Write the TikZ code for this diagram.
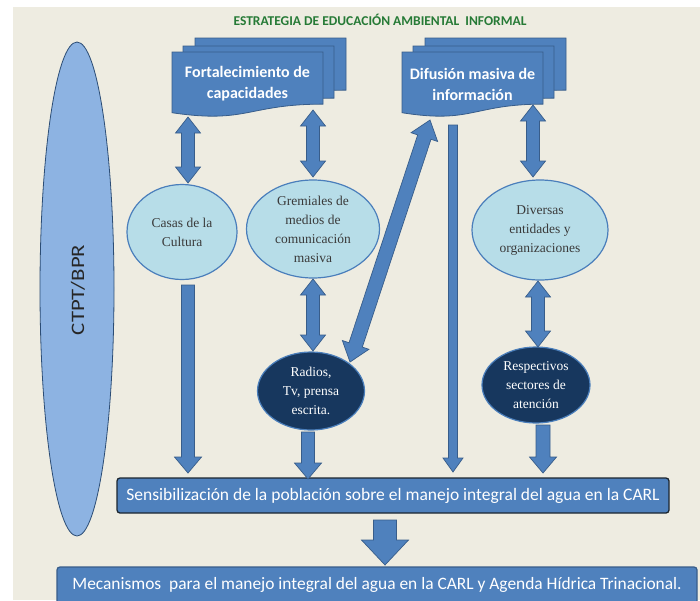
\documentclass[tikz,border=0pt]{standalone}
\usepackage{fontspec}
\setmainfont{Liberation Serif}
\setsansfont{Carlito}
\usetikzlibrary{calc,shapes.geometric}

\definecolor{bgtan}{HTML}{EEECE1}
\definecolor{docfill}{HTML}{4F81BD}
\definecolor{docdraw}{HTML}{385D8A}
\definecolor{lightell}{HTML}{B7DDE8}
\definecolor{ellborder}{HTML}{4A7EBB}
\definecolor{darkell}{HTML}{17375E}
\definecolor{leftell}{HTML}{8DB3E2}
\definecolor{leftborder}{HTML}{2C4D75}
\definecolor{titlegreen}{HTML}{267A36}
\definecolor{elltext}{HTML}{3A3A3A}
\definecolor{boxborder}{HTML}{1C2630}

\newcommand{\docshape}[4]{%
  \filldraw[docstyle] (#1,#2) -- ++(#3,0) -- ++(0,{0.802*#4})
    .. controls ({#1+0.5*#3},{#2+0.802*#4}) and ({#1+0.5*#3},{#2+1.107*#4}) ..
    (#1,{#2+0.934*#4}) -- cycle;}
\newcommand{\multidoc}[4]{%
  \docshape{#1+23}{#2-14}{#3}{#4}%
  \docshape{#1+11}{#2-6}{#3}{#4}%
  \docshape{#1}{#2}{#3}{#4}}

% single block arrow: #1 start, #2 tip, #3 half shaft, #4 half head, #5 head length (pt numbers)
\newcommand{\singlearrow}[5]{%
  \coordinate (sah) at ($(#2)!#5pt!(#1)$);
  \filldraw[arrowstyle] ($(#1)!#3pt!90:(#2)$) -- ($(sah)!#3pt!-90:(#1)$) -- ($(sah)!#4pt!-90:(#1)$)
    -- (#2) -- ($(sah)!#4pt!90:(#1)$) -- ($(sah)!#3pt!90:(#1)$) -- ($(#1)!#3pt!-90:(#2)$) -- cycle;}
% double block arrow between tips #1 and #2
\newcommand{\doublearrow}[5]{%
  \coordinate (dah1) at ($(#1)!#5pt!(#2)$);
  \coordinate (dah2) at ($(#2)!#5pt!(#1)$);
  \filldraw[arrowstyle] (#1) -- ($(dah1)!#4pt!90:(#2)$) -- ($(dah1)!#3pt!90:(#2)$)
    -- ($(dah2)!#3pt!-90:(#1)$) -- ($(dah2)!#4pt!-90:(#1)$) -- (#2)
    -- ($(dah2)!#4pt!90:(#1)$) -- ($(dah2)!#3pt!90:(#1)$)
    -- ($(dah1)!#3pt!-90:(#2)$) -- ($(dah1)!#4pt!-90:(#2)$) -- cycle;}

\tikzset{
  docstyle/.style={fill=docfill, draw=docdraw, line width=0.8pt},
  arrowstyle/.style={fill=docfill, draw=docdraw, line width=0.7pt, line join=miter},
  doctext/.style={font=\sffamily\bfseries\fontsize{16}{21}\selectfont, text=white, align=center},
  lightnode/.style={ellipse, fill=lightell, draw=ellborder, line width=1.2pt, inner sep=0pt,
    align=center, text=elltext, font=\fontsize{13.5}{19}\selectfont},
  darknode/.style={ellipse, fill=darkell, draw=ellborder, line width=1.2pt, inner sep=0pt,
    align=center, text=white, font=\fontsize{13.5}{19}\selectfont},
  barbox/.style={rectangle, rounded corners=3pt, fill=docfill, line width=1.3pt,
    text=white, font=\sffamily\fontsize{17.5}{20}\selectfont, inner sep=0pt}
}

\begin{document}
\begin{tikzpicture}[x=1pt,y=-1pt]
\useasboundingbox (0,0) rectangle (700,600);
\clip (0,0) rectangle (700,600);
\fill[white] (0,0) rectangle (700,600);
\fill[bgtan] (13,7) rectangle (700,600);

% title
\node[font=\sffamily\bfseries\fontsize{13.5}{15}\selectfont, text=titlegreen] (title) at (380,20)
  {ESTRATEGIA DE EDUCACIÓN AMBIENTAL\ \ INFORMAL};

% left ellipse
\node[ellipse, fill=leftell, draw=leftborder, line width=0.8pt, minimum width=74pt,
  minimum height=494pt, inner sep=0pt] (ctpt) at (77,289) {};
\node[rotate=90, xscale=1.2, font=\sffamily\fontsize{19}{20}\selectfont, text=black!85] (ctpttext) at (78,290) {CTPT/BPR};

% multi documents
\multidoc{172}{52}{151}{65}
\node[doctext] (fort) at (247.5,84) {Fortalecimiento de\\capacidades};
\multidoc{402}{52}{141}{65}
\node[doctext] (difu) at (472.5,84) {Difusión masiva de\\información};

% ellipses
\node[lightnode, minimum width=110pt, minimum height=95pt] (casas) at (182,232) {Casas de la\\Cultura};
\node[lightnode, minimum width=133pt, minimum height=98pt] (grem) at (313,229) {Gremiales de\\medios de\\comunicación\\masiva};
\node[lightnode, minimum width=136pt, minimum height=100pt] (diver) at (540,230) {Diversas\\entidades y\\organizaciones};
\node[darknode, minimum width=107pt, minimum height=78pt] (radios) at (311,391) {Radios,\\Tv, prensa\\escrita.};
\node[darknode, minimum width=108pt, minimum height=76pt] (resp) at (536,385) {Respectivos\\sectores de\\atención};

% bars
\node[barbox, draw=boxborder, minimum width=552pt, minimum height=35pt] (sens) at (393,495.5)
  {Sensibilización de la población sobre el manejo integral del agua en la CARL};
\node[barbox, draw=docdraw, minimum width=640pt, minimum height=40pt] (meca) at (377,587) {};
\node[text=white, font=\sffamily\fontsize{17.4}{19}\selectfont] (mecatext) at (377,585)
  {Mecanismos\ \ para el manejo integral del agua en la CARL y Agenda Hídrica Trinacional.};

% connector end points
\coordinate (fortA) at (188,117);
\coordinate (casasA) at (188,183);
\coordinate (fortB) at (313,110);
\coordinate (gremA) at (313,177);
\coordinate (difuA) at (533,105);
\coordinate (diverA) at (533,177);
\coordinate (diverB) at (538,281);
\coordinate (respA) at (538,347);
\coordinate (gremB) at (313,279);
\coordinate (radiosA) at (313,351);
\coordinate (difuB) at (430,120);
\coordinate (radiosB) at (350,362);
\coordinate (difuC) at (453,125);
\coordinate (sensA) at (453,472);
\coordinate (casasB) at (188,285);
\coordinate (sensB) at (188,473);
\coordinate (radiosC) at (308,432);
\coordinate (sensC) at (308,479);
\coordinate (respB) at (543,425);
\coordinate (sensD) at (543,473);
\coordinate (sensE) at (385,520);
\coordinate (mecaA) at (385,565);

% double arrows
\doublearrow{fortA}{casasA}{6.5}{12.5}{16}
\doublearrow{fortB}{gremA}{6.5}{12.5}{16}
\doublearrow{difuA}{diverA}{6.5}{12.5}{16}
\doublearrow{diverB}{respA}{6.5}{12.5}{16}
\doublearrow{gremB}{radiosA}{6.5}{12.5}{16}
\doublearrow{difuB}{radiosB}{7}{14}{18}

% single arrows
\singlearrow{difuC}{sensA}{4.5}{10}{14}
\singlearrow{casasB}{sensB}{6.5}{13.5}{16}
\singlearrow{radiosC}{sensC}{6.5}{13.5}{16}
\singlearrow{respB}{sensD}{7}{13.5}{16}
\singlearrow{sensE}{mecaA}{11.5}{23.5}{25}
\end{tikzpicture}
\end{document}
